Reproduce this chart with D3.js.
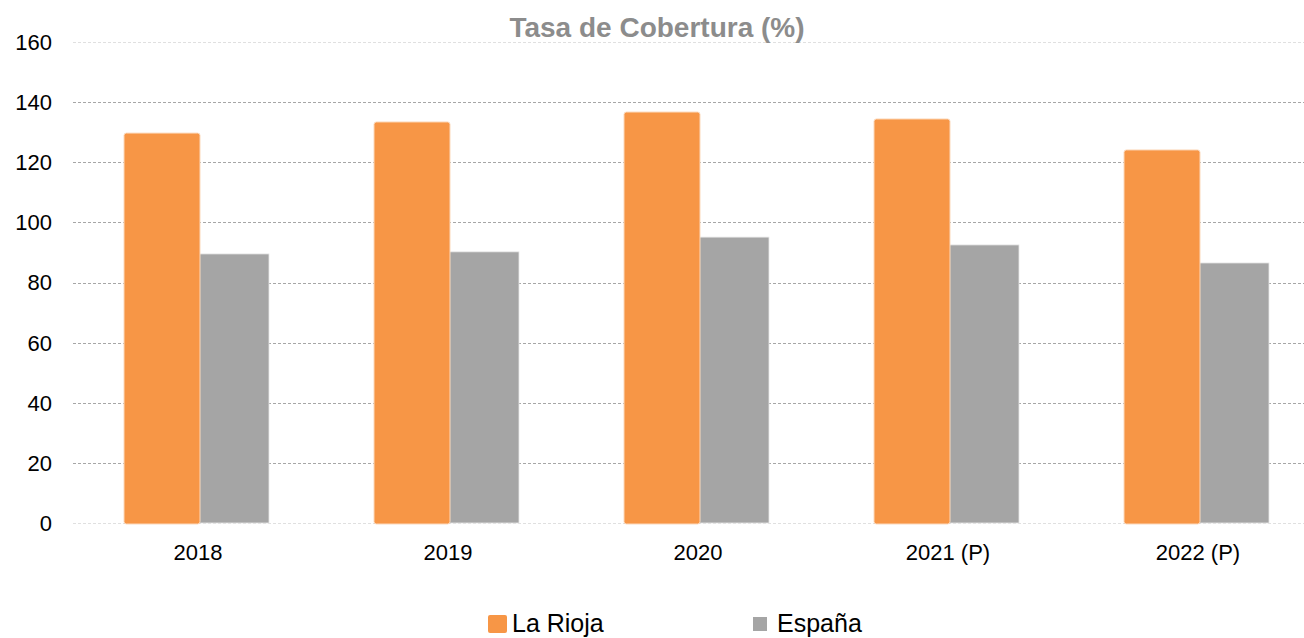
<!DOCTYPE html>
<html>
<head>
<meta charset="utf-8">
<script src="https://cdn.jsdelivr.net/npm/d3@7"></script>
<style>
  body { margin: 0; background: #fff; }
  svg { display: block; font-family: Arial, "Liberation Sans", sans-serif; }
</style>
</head>
<body>
<div id="chart"></div>
<script>
// data
const years = ["2018", "2019", "2020", "2021 (P)", "2022 (P)"];
const seriesNames = ["La Rioja", "España"];
const laRioja = [129.7, 133.4, 136.7, 134.4, 124.1];
const espana = [89.5, 90.2, 95.1, 92.5, 86.5];
const yTicks = [0, 20, 40, 60, 80, 100, 120, 140, 160];
const colors = ["#F79646", "#A5A5A5"];

const width = 1304, height = 638;
const margin = {top: 42, right: -19, bottom: 115, left: 73};

const svg = d3.select("#chart").append("svg")
	.attr("width", width)
	.attr("height", height);

const x = d3.scaleBand()
	.domain(years)
	.range([margin.left, width - margin.right])
	.paddingInner(0.416)
	.paddingOuter(0.208);

const x1 = d3.scaleBand()
	.domain(seriesNames)
	.range([0, x.bandwidth()]);

const y = d3.scaleLinear()
	.domain([0, 160])
	.range([height - margin.bottom, margin.top]);

// gridlines
svg.append("g")
	.selectAll("line")
	.data(yTicks)
	.join("line")
		.attr("x1", margin.left)
		.attr("x2", width)
		.attr("y1", d => Math.round(y(d)) + 0.5)
		.attr("y2", d => Math.round(y(d)) + 0.5)
		.attr("stroke", d => (d === 0 || d === 160) ? "#e0e0e0" : "#a6a6a6")
		.attr("stroke-width", 1)
		.attr("stroke-dasharray", "3,2");

// y tick labels
svg.append("g")
	.selectAll("text")
	.data(yTicks)
	.join("text")
		.attr("x", 52)
		.attr("y", d => y(d))
		.attr("dy", "0.36em")
		.attr("text-anchor", "end")
		.style("font-size", "22px")
		.style("fill", "#000")
		.text(d => d);

// bars
const rows = years.map((yr, i) => ({year: yr, values: [laRioja[i], espana[i]]}));

const groups = svg.append("g")
	.selectAll("g")
	.data(rows)
	.join("g")
		.attr("transform", d => `translate(${x(d.year)},0)`);

// gray first so the orange overlaps slightly
groups.append("rect")
	.attr("x", x1("España") - 1)
	.attr("y", d => y(d.values[1]))
	.attr("width", x1.bandwidth() - 1)
	.attr("height", d => y(0) - y(d.values[1]))
	.attr("fill", colors[1])
	.attr("stroke", "#e8e8e8")
	.attr("stroke-width", 0.8);

groups.append("rect")
	.attr("x", x1("La Rioja") - 1)
	.attr("y", d => y(d.values[0]))
	.attr("width", x1.bandwidth() + 3)
	.attr("height", d => y(0) - y(d.values[0]) + 1)
	.attr("rx", 2.5)
	.attr("fill", colors[0])
	.attr("stroke", "#fcd9bc")
	.attr("stroke-width", 1);

// x labels
svg.append("g")
	.selectAll("text")
	.data(years)
	.join("text")
		.attr("x", d => x(d) + x.bandwidth() / 2)
		.attr("y", 560)
		.attr("text-anchor", "middle")
		.style("font-size", "22px")
		.style("fill", "#000")
		.text(d => d);

// title
svg.append("text")
	.attr("x", 657)
	.attr("y", 37)
	.attr("text-anchor", "middle")
	.style("font-size", "28px")
	.style("font-weight", "bold")
	.style("fill", "#8c8c8c")
	.text("Tasa de Cobertura (%)");

// legend
const legendX = [488, 753];
const legend = svg.append("g")
	.selectAll("g")
	.data(seriesNames)
	.join("g")
		.attr("transform", (d, i) => `translate(${legendX[i]},614)`);

legend.append("rect")
	.attr("width", (d, i) => i === 0 ? 19 : 14)
	.attr("height", (d, i) => i === 0 ? 18 : 14)
	.attr("y", (d, i) => i === 0 ? 1 : 3)
	.attr("rx", (d, i) => i === 0 ? 2 : 0)
	.attr("fill", (d, i) => colors[i]);

legend.append("text")
	.attr("x", (d, i) => i === 0 ? 24 : 24)
	.attr("y", 18)
	.style("font-size", "25px")
	.style("fill", "#000")
	.text(d => d);
</script>
</body>
</html>
